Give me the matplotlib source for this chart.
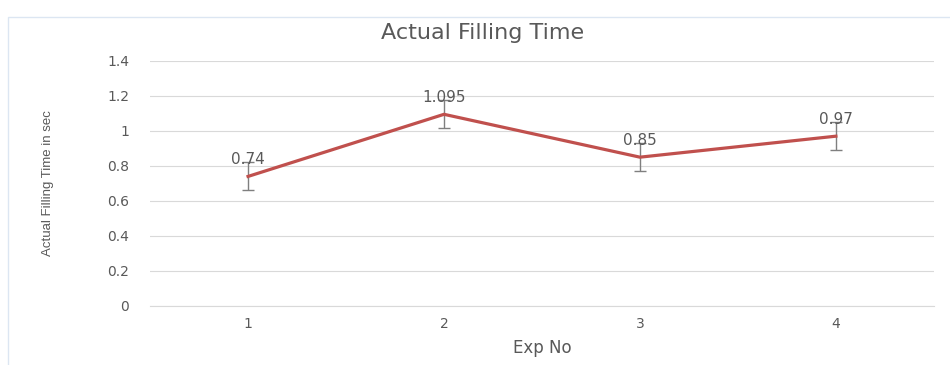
import matplotlib.pyplot as plt
from matplotlib import font_manager
from matplotlib.patches import Rectangle

exp_no = ['1', '2', '3', '4']
filling_time = [0.74, 1.095, 0.85, 0.97]
err = [0.08, 0.08, 0.08, 0.08]
y_ticks = [0, 0.2, 0.4, 0.6, 0.8, 1, 1.2, 1.4]

plt.rcParams['font.family'] = ['DejaVu Sans']
text_c = '#595959'

# narrow font for the y label if there is one
installed = {f.name for f in font_manager.fontManager.ttflist}
narrow = 'Liberation Sans Narrow' if 'Liberation Sans Narrow' in installed else 'Liberation Sans'

fig = plt.figure(figsize=(9.5, 3.65), dpi=100)
ax = fig.add_axes([0.158, 0.162, 0.825, 0.671])

# excel chart frame
fig.patches.append(Rectangle((0.0084, -0.05), 1.2, 1.003, transform=fig.transFigure,
                             fill=False, edgecolor='#dce6f2', linewidth=1.0))

x = list(range(len(exp_no)))
ax.errorbar(x, filling_time, yerr=err, color='#c0504d', linewidth=2.3,
            ecolor='#7f7f7f', elinewidth=1.0, capsize=4.5, capthick=1.0, zorder=3)

for xi, v in zip(x, filling_time):
    ax.annotate(f'{v:g}', (xi, v), xytext=(0, 12), textcoords='offset points',
                ha='center', va='center', fontsize=11, color=text_c, zorder=4)

ax.set_xlim(-0.5, len(exp_no) - 0.5)
ax.set_ylim(0, 1.4)
ax.set_xticks(x)
ax.set_xticklabels(exp_no)
ax.set_yticks(y_ticks)
ax.set_yticklabels([f'{t:g}' for t in y_ticks])
ax.grid(axis='y', color='#d9d9d9', linewidth=0.8)
ax.set_axisbelow(True)
for s in ['top', 'right', 'left']:
    ax.spines[s].set_visible(False)
ax.spines['bottom'].set_color('#d9d9d9')
ax.tick_params(length=0, colors=text_c, labelsize=10)
ax.tick_params(axis='y', pad=15)
ax.tick_params(axis='x', pad=8)

fig.text(0.508, 0.91, 'Actual Filling Time', fontsize=16, color=text_c,
         ha='center', va='center')
ax.set_xlabel('Exp No', fontsize=12, color=text_c, labelpad=6)
ax.set_ylabel('Actual Filling Time in sec', fontsize=9.5, color=text_c, family=narrow)
ax.yaxis.set_label_coords(-0.122, 0.5)

fig.savefig('out.png', dpi=100, facecolor='white')
